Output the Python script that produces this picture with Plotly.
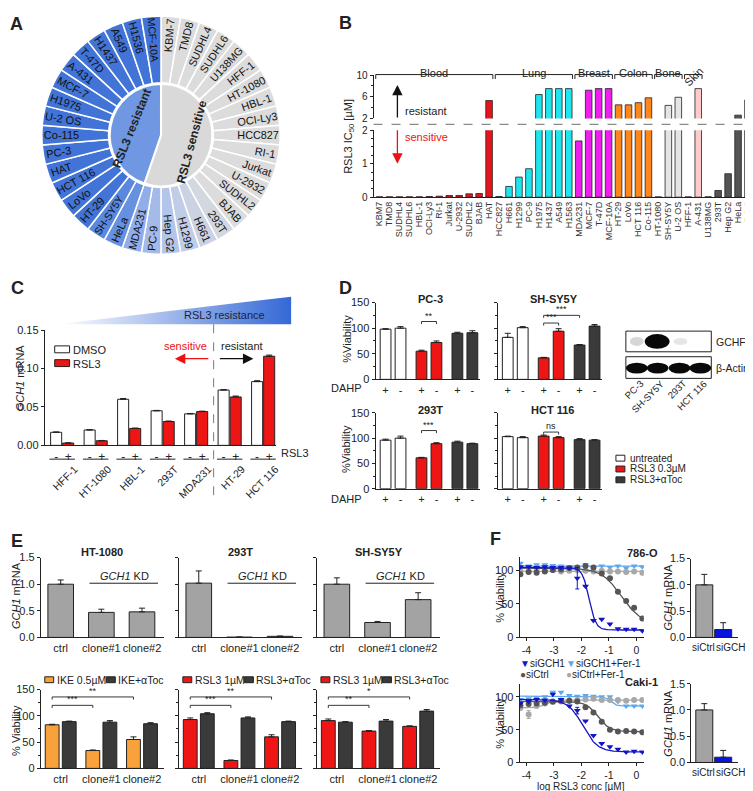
import numpy as np
import plotly.graph_objects as go

W, H = 753, 791
FONT = "Liberation Sans, Arial, sans-serif"
LC = "#222222"
RED = "#ee1515"
DARK = "#3a3a3a"
ORANGE = "#f9a13a"
GRAYBAR = "#a3a3a3"

# ===================== DATA =====================
# --- Panel A ---
a_cells = ["KBM-7", "TMD8", "SUDHL4", "SUDHL6", "U138MG", "HFF-1", "HT-1080", "HBL-1",
           "OCI-Ly3", "HCC827", "RI-1", "Jurkat", "U-2932", "SUDHL2", "BJAB", "293T",
           "H661", "H1299", "Hep G2", "PC-9", "MDA231", "HeLa", "SH-SY5Y", "HT-29",
           "LoVo", "HCT 116", "HAT", "PC-3", "Co-115", "U-2 OS", "H1975", "MCF-7",
           "A-431", "T-47D", "H1437", "A549", "H1536", "MCF-10A"]
a_colors = (["#dcdcdc"] * 15 +
            ["#d3d7df", "#cbd3e3", "#c1cde6", "#b3c5e8", "#a4bbea", "#92aeea",
             "#6690e0", "#5a88de"] +
            ["#4274d8"] * 15)
a_inner_labels = ["RSL3 sensitive", "RSL3 resistant"]
a_inner_counts = [21, 17]
a_inner_colors = ["#d9d9d9", "#6f97e2"]

# --- Panel B ---
b_cells = ["KBM7", "TMD8", "SUDHL4", "SUDHL6", "HBL-1", "OCI-Ly3", "RI-1", "Jurkat",
           "U-2932", "SUDHL2", "BJAB", "HAT", "HCC827", "H661", "H1299", "PC-9",
           "H1975", "H1437", "A549", "H1563", "MDA231", "MCF-7", "T-47D", "MCF-10A",
           "HT-29", "LoVo", "HCT 116", "Co-115", "HT-1080", "SH-SY5Y", "U-2 OS",
           "HFF-1", "A-431", "U138MG", "293T", "Hep G2", "HeLa", "PC-3"]
b_tissue = (["Blood"] * 12 + ["Lung"] * 8 + ["Breast"] * 4 + ["Colon"] * 4 +
            ["Bone"] * 3 + ["Skin"] * 2 + ["Other"] * 5)
b_ic50 = [0.01, 0.01, 0.01, 0.01, 0.01, 0.02, 0.03, 0.05, 0.05, 0.10, 0.11, 5.3,
          0.02, 0.32, 0.60, 0.85, 6.4, 7.5, 7.5, 7.5,
          1.68, 7.2, 7.5, 7.5,
          4.5, 4.5, 4.9, 5.8,
          0.01, 4.4, 5.9,
          0.01, 7.5,
          0.01, 0.20, 0.70, 2.6, 5.4]
b_groups = ["Blood", "Lung", "Breast", "Colon", "Bone", "Skin"]
b_tissue_colors = {"Blood": "#e8141c", "Lung": "#1fe5ef", "Breast": "#ee1eee",
                   "Colon": "#ff861a", "Bone": "#e4e4e4", "Skin": "#ffcaca",
                   "Other": "#545454"}

# --- Panel C ---
c_cells = ["HFF-1", "HT-1080", "HBL-1", "293T", "MDA231", "HT-29", "HCT 116"]
c_dmso = [0.017, 0.020, 0.060, 0.045, 0.041, 0.072, 0.083]
c_dmso_err = [0.0005, 0.0004, 0.0010, 0.0005, 0.0005, 0.0006, 0.0012]
c_rsl3 = [0.003, 0.006, 0.022, 0.031, 0.044, 0.063, 0.116]
c_rsl3_err = [0.0003, 0.0004, 0.0005, 0.0007, 0.0005, 0.0012, 0.0015]

# --- Panel D ---
d_dahp = ["+", "-", "+", "-", "+", "-"]
d_pc3 = [98, 100, 55, 72, 90, 91]
d_pc3_err = [1, 3, 2, 3, 2, 4]
d_shsy5y = [82, 101, 42, 94, 67, 104]
d_shsy5y_err = [8, 2, 1, 5, 1, 3]
d_293t = [96, 100, 61, 89, 92, 89]
d_293t_err = [2, 4, 1, 2, 2, 1]
d_hct116 = [103, 101, 104, 101, 97, 96]
d_hct116_err = [1, 2, 2, 2, 2, 1]
d_blot_lanes = ["PC-3", "SH-SY5Y", "293T", "HCT 116"]

# --- Panel E ---
e_clones = ["ctrl", "clone#1", "clone#2"]
e_mrna_ht1080 = [1.00, 0.47, 0.48]
e_mrna_ht1080_err = [0.08, 0.06, 0.07]
e_mrna_293t = [1.02, 0.005, 0.02]
e_mrna_293t_err = [0.23, 0.002, 0.005]
e_mrna_shsy5y = [1.00, 0.28, 0.71]
e_mrna_shsy5y_err = [0.12, 0.02, 0.13]
e_via_ht1080_ike = [83, 34, 55]
e_via_ht1080_ike_err = [1, 1, 5]
e_via_ht1080_toc = [89, 88, 85]
e_via_ht1080_toc_err = [1, 3, 2]
e_via_293t_rsl3 = [93, 15, 60]
e_via_293t_rsl3_err = [3, 1, 4]
e_via_293t_toc = [104, 96, 89]
e_via_293t_toc_err = [2, 2, 1]
e_via_shsy5y_rsl3 = [91, 71, 80]
e_via_shsy5y_rsl3_err = [3, 1, 1]
e_via_shsy5y_toc = [88, 90, 109]
e_via_shsy5y_toc_err = [1, 3, 3]

# --- Panel F ---
f_logconc = [-4.22, -3.92, -3.63, -3.33, -3.04, -2.74, -2.44, -2.15,
             -1.85, -1.56, -1.26, -0.96, -0.67, -0.37, -0.08, 0.22]
f786_sigch1 = [105, 105, 104, 105, 104, 104, 103, 88, 76, 25, 27, 20, 13, 12, 12, 10]
f786_sigch1_fer = [110, 106, 108, 108, 107, 106, 105, 104, 108, 104, 106, 104, 106, 103, 106, 105]
f786_sictrl = [94, 97, 96, 98, 100, 101, 103, 104, 106, 104, 95, 88, 68, 54, 44, 28]
f786_sictrl_fer = [100, 98, 99, 99, 100, 98, 99, 100, 99, 98, 99, 98, 98, 97, 98, 96]
fcaki_sigch1 = [90, 93, 96, 95, 104, 96, 86, 79, 63, 41, 29, 24, 20, 16, 17, 16]
fcaki_sigch1_fer = [96, 97, 99, 100, 107, 107, 102, 101, 102, 101, 100, 100, 93, 86, 86, 86]
fcaki_sictrl = [87, 89, 90, 91, 93, 94, 94, 93, 84, 76, 62, 50, 47, 48, 47, 46]
fcaki_sictrl_fer = [83, 73, 86, 90, 92, 93, 94, 95, 96, 97, 95, 95, 95, 94, 95, 95]
# fitted 4-parameter logistic curves: (top, bottom, logIC50, hill)
f786_fit = {"siGCH1": (104, 11, -1.72, 3.5), "siGCH1+Fer-1": (106, 106, -1.0, 1.0),
            "siCtrl": (103, 20, -0.55, 1.2), "siCtrl+Fer-1": (98, 98, -1.0, 1.0)}
fcaki_fit = {"siGCH1": (96, 16, -1.95, 1.6), "siGCH1+Fer-1": (101, 86, -0.95, 4.0),
             "siCtrl": (93, 47, -1.40, 2.0), "siCtrl+Fer-1": (83, 95, -3.3, 3.0)}
f_sirna = ["siCtrl", "siGCH1"]
f786_mrna = [1.0, 0.15]
f786_mrna_err = [0.20, 0.13]
fcaki_mrna = [1.0, 0.10]
fcaki_mrna_err = [0.12, 0.13]

# ===================== HELPERS =====================
fig = go.Figure()
axes_layout = {}
shapes = []
annotations = []


def py(v):
    return 1 - v / H


def make_axes(n, xd, yd, xk=None, yk=None):
    s = "" if n == 1 else str(n)
    base = dict(showgrid=False, zeroline=False, showline=True, linecolor=LC, linewidth=1,
                ticks="outside", ticklen=3, tickwidth=1, tickcolor=LC,
                tickfont=dict(size=10, color="#222", family=FONT), fixedrange=True)
    xa = dict(base)
    xa.update(domain=[xd[0] / W, xd[1] / W], anchor="y" + s)
    ya = dict(base)
    ya.update(domain=[1 - yd[1] / H, 1 - yd[0] / H], anchor="x" + s)
    if xk:
        xa.update(xk)
    if yk:
        ya.update(yk)
    axes_layout["xaxis" + s] = xa
    axes_layout["yaxis" + s] = ya
    return "x" + s, "y" + s


def ann(x, y, text, size=10, color="#222", xanchor="center", yanchor="middle", angle=0, bold=False):
    annotations.append(dict(x=x / W, y=py(y), xref="paper", yref="paper",
                            text=f"<b>{text}</b>" if bold else text, showarrow=False,
                            font=dict(size=size, color=color, family=FONT),
                            xanchor=xanchor, yanchor=yanchor, textangle=angle))


def rect(x0, y0, x1, y1, fill, line=LC, lw=1):
    shapes.append(dict(type="rect", xref="paper", yref="paper", x0=x0 / W, x1=x1 / W,
                       y0=py(y1), y1=py(y0), fillcolor=fill, line=dict(color=line, width=lw)))


def pline(x0, y0, x1, y1, color=LC, lw=1, dash=None):
    shapes.append(dict(type="line", xref="paper", yref="paper", x0=x0 / W, x1=x1 / W,
                       y0=py(y0), y1=py(y1), line=dict(color=color, width=lw, dash=dash)))


def ellipse(x0, y0, x1, y1, fill, opacity=1):
    shapes.append(dict(type="circle", xref="paper", yref="paper", x0=x0 / W, x1=x1 / W,
                       y0=py(y1), y1=py(y0), fillcolor=fill, opacity=opacity, line=dict(width=0)))


def bracket(xr, yr, x0, x1, y, drop, label, size=9):
    shapes.append(dict(type="path", xref=xr, yref=yr,
                       path=f"M {x0},{y - drop} L {x0},{y} L {x1},{y} L {x1},{y - drop}",
                       line=dict(color=LC, width=0.9)))
    annotations.append(dict(xref=xr, yref=yr, x=(x0 + x1) / 2, y=y, text=label, showarrow=False,
                            yanchor="bottom", yshift=-1, font=dict(size=size, color="#222", family=FONT)))


def arrow(hx, hy, ax_, ay_, color):
    annotations.append(dict(x=hx / W, y=py(hy), xref="paper", yref="paper", text="",
                            showarrow=True, ax=ax_, ay=ay_, arrowhead=2, arrowsize=1.6,
                            arrowwidth=1.3, arrowcolor=color))


def err(arr, color=LC):
    return dict(type="data", symmetric=False, array=arr, arrayminus=[0] * len(arr),
                color=color, thickness=1, width=3)


# ===================== CANVAS (gradient wedge in C) =====================
axes_layout["xaxis18"] = dict(domain=[0, 1], range=[0, W], visible=False, anchor="y18", fixedrange=True)
axes_layout["yaxis18"] = dict(domain=[0, 1], range=[H, 0], visible=False, anchor="x18", fixedrange=True)
fig.add_trace(go.Scatter(x=[50, 285, 285, 50], y=[315, 287, 315, 315], fill="toself", mode="lines",
                         line=dict(width=0),
                         fillgradient=dict(type="horizontal",
                                           colorscale=[[0, "rgba(60,110,214,0)"], [1, "rgba(52,104,214,1)"]]),
                         xaxis="x18", yaxis="y18", hoverinfo="skip", showlegend=False))

# ===================== PANEL A =====================
fig.add_trace(go.Pie(labels=a_cells, values=[1] * len(a_cells),
                     domain=dict(x=[33 / W, 275 / W], y=[py(244), py(2)]),
                     hole=0.44, sort=False, direction="clockwise", rotation=0,
                     marker=dict(colors=a_colors, line=dict(color="white", width=1.5)),
                     textinfo="label", textposition="inside", insidetextorientation="radial",
                     textfont=dict(size=11, color="#111", family=FONT),
                     hoverinfo="skip", showlegend=False))
fig.add_trace(go.Pie(labels=a_inner_labels, values=a_inner_counts,
                     domain=dict(x=[102 / W, 206 / W], y=[py(175), py(71)]),
                     sort=False, direction="clockwise", rotation=0,
                     marker=dict(colors=a_inner_colors, line=dict(color="white", width=2)),
                     textinfo="none", hoverinfo="skip", showlegend=False))
ann(125, 116, a_inner_labels[1], size=12, angle=-68, bold=True)
ann(185, 130, a_inner_labels[0], size=12, angle=-75, bold=True)

# ===================== PANEL B =====================
bx = list(range(len(b_cells)))
b_cols = [b_tissue_colors[t] for t in b_tissue]
xB1, yB1 = make_axes(1, (368, 753), (62, 106),
                     dict(range=[-0.6, 37.8], showline=False, ticks="", showticklabels=False),
                     dict(range=[2, 10], tickvals=[2, 6, 10],
                          minor=dict(ticks="outside", ticklen=2, dtick=2, tickcolor=LC)))
xB2, yB2 = make_axes(2, (368, 753), (118, 186),
                     dict(range=[-0.6, 37.8], tickvals=bx, ticktext=b_cells, tickangle=-90, ticks="",
                          tickfont=dict(size=9, color="#333", family=FONT)),
                     dict(range=[0, 2], tickvals=[0, 1, 2],
                          minor=dict(ticks="outside", ticklen=2, dtick=0.25, tickcolor=LC)))
for xa, ya in [(xB1, yB1), (xB2, yB2)]:
    fig.add_trace(go.Bar(x=bx, y=b_ic50, xaxis=xa, yaxis=ya, width=0.66,
                         marker=dict(color=b_cols, line=dict(color=LC, width=0.8)),
                         hoverinfo="skip", showlegend=False))
pline(368, 112, 753, 112, color="#8a8a8a", lw=1.3, dash="dash")
for g in b_groups:
    idx = [i for i, t in enumerate(b_tissue) if t == g]
    x0, x1 = idx[0] - 0.38, idx[-1] + 0.38
    shapes.append(dict(type="path", xref="x2", yref="paper",
                       path=f"M {x0},{py(66)} L {x0},{py(61.5)} L {x1},{py(61.5)} L {x1},{py(66)}",
                       line=dict(color=LC, width=1)))
    annotations.append(dict(x=(x0 + x1) / 2, y=py(52) if g != "Skin" else py(49), xref="x2", yref="paper",
                            text=g, showarrow=False, textangle=-45 if g == "Skin" else 0,
                            font=dict(size=11, color="#222", family=FONT)))
ann(343, 124, "RSL3 IC<sub>50</sub> [µM]", size=11, angle=-90)
arrow(392, 72, 0, 34, "#111")
arrow(392, 152, 0, -35, "#ee1111")
ann(398, 99, "resistant", size=11, xanchor="left")
ann(398, 125, "sensitive", size=11, color="#ee1111", xanchor="left")

# ===================== PANEL C =====================
c_pos = list(range(len(c_cells)))
off = 0.18
xC, yC = make_axes(3, (37, 270), (321, 438),
                   dict(range=[-0.52, 6.39], tickvals=[p + s for p in c_pos for s in (-off, off)],
                        ticktext=["-", "+"] * len(c_pos), ticks="",
                        tickfont=dict(size=12, color="#222", family=FONT)),
                   dict(range=[0, 0.15], tickvals=[0, 0.05, 0.10, 0.15],
                        ticktext=["0.00", "0.05", "0.10", "0.15"],
                        tickfont=dict(size=11, color="#222", family=FONT)))
fig.add_trace(go.Bar(x=[p - off for p in c_pos], y=c_dmso, width=0.33, xaxis=xC, yaxis=yC,
                     marker=dict(color="white", line=dict(color=LC, width=1)),
                     error_y=err(c_dmso_err), hoverinfo="skip", showlegend=False))
fig.add_trace(go.Bar(x=[p + off for p in c_pos], y=c_rsl3, width=0.33, xaxis=xC, yaxis=yC,
                     marker=dict(color=RED, line=dict(color=LC, width=1)),
                     error_y=err(c_rsl3_err), hoverinfo="skip", showlegend=False))
axes_layout["xaxis20"] = dict(overlaying="x3", anchor="free", position=py(453), range=[-0.52, 6.39],
                              tickvals=[p + 0.37 for p in c_pos], ticktext=c_cells, tickangle=-45,
                              showline=False, ticks="", showgrid=False, zeroline=False, fixedrange=True,
                              tickfont=dict(size=10.5, color="#222", family=FONT))
fig.add_trace(go.Scatter(x=[0], y=[0], xaxis="x20", yaxis="y3", mode="markers",
                         marker=dict(opacity=0), hoverinfo="skip", showlegend=False))
for p in c_pos:
    shapes.append(dict(type="line", xref="x3", yref="paper", x0=p - 0.38, x1=p + 0.38,
                       y0=py(452), y1=py(452), line=dict(color=LC, width=1)))
ann(273, 446, "RSL3", size=11, xanchor="left")
ann(12, 369, "<i>GCH1</i> mRNA", size=11, angle=-90)
rect(47, 337, 62, 344, "white")
ann(63, 341, "DMSO", size=11, xanchor="left")
rect(47, 351, 62, 358, RED)
ann(63, 355, "RSL3", size=11, xanchor="left")
pline(207, 315, 207, 493, color="#7a7a7a", lw=1, dash="dash")
ann(202, 337, "sensitive", size=11, color="#ee1111", xanchor="right")
ann(212, 337, "resistant", size=11, xanchor="left")
arrow(168, 350, 35, 0, "#ee1111")
arrow(247, 350, -35, 0, "#111")
ann(218, 306, "RSL3 resistance", size=11, color="#1a2440")

# ===================== PANEL D =====================
d_x = [0, 1, 2.4, 3.4, 4.8, 5.8]
d_cols = ["white", "white", RED, RED, DARK, DARK]
d_specs = [(4, d_pc3, d_pc3_err, (370, 475), (293, 371), True, "PC-3", (425, 289)),
           (5, d_shsy5y, d_shsy5y_err, (493, 598), (293, 371), False, "SH-SY5Y", (550, 289)),
           (6, d_293t, d_293t_err, (370, 475), (405, 482), True, "293T", (425, 402)),
           (7, d_hct116, d_hct116_err, (493, 598), (405, 482), False, "HCT 116", (548, 402))]
d_ax = {}
for n, vals, errs, xd, yd, lab, title, tpos in d_specs:
    xa, ya = make_axes(n, xd, yd,
                       dict(range=[-0.67, 6.3], tickvals=d_x, ticktext=d_dahp, ticks="",
                            tickfont=dict(size=11, color="#222", family=FONT)),
                       dict(range=[0, 150], tickvals=[0, 50, 100, 150], showticklabels=lab,
                            minor=dict(ticks="outside", ticklen=2, dtick=25, tickcolor=LC),
                            tickfont=dict(size=11, color="#222", family=FONT)))
    d_ax[title] = (xa, ya)
    fig.add_trace(go.Bar(x=d_x, y=vals, width=0.72, xaxis=xa, yaxis=ya,
                         marker=dict(color=d_cols, line=dict(color=LC, width=1)),
                         error_y=err(errs), hoverinfo="skip", showlegend=False))
    ann(tpos[0], tpos[1], title, size=11, bold=True)
bracket(*d_ax["PC-3"], 2.4, 3.4, 113, 5, "**")
bracket(*d_ax["SH-SY5Y"], 2.4, 3.4, 110, 5, "***")
bracket(*d_ax["SH-SY5Y"], 2.4, 4.8, 125, 5, "***")
bracket(*d_ax["293T"], 2.4, 3.4, 115, 5, "***")
bracket(*d_ax["HCT 116"], 2.4, 3.4, 112, 5, "ns")
ann(358, 380, "DAHP", size=11, xanchor="right")
ann(358, 492, "DAHP", size=11, xanchor="right")
ann(341, 330, "%Viability", size=11, angle=-90)
ann(341, 442, "%Viability", size=11, angle=-90)
# western blot
rect(622, 322, 708, 343, "white", lw=1)
rect(622, 348, 708, 370, "white", lw=1)
lane_c = [633, 654, 676, 697]
ellipse(626, 328, 640, 337, "#bdbdbd", 0.6)
ellipse(641, 325, 666, 340, "#080808")
ellipse(670, 329, 684, 336, "#d6d6d6", 0.6)
for c in lane_c:
    ellipse(c - 11, 354, c + 11, 365, "#0a0a0a")
ann(711, 333, "GCHFR", size=10.5, xanchor="left")
ann(711, 359, "β-Actin", size=10.5, xanchor="left")
for lbl, cx, cy in zip(d_blot_lanes, [630, 644, 673, 688], [381, 388, 381, 387]):
    ann(cx, cy, lbl, size=9.5, angle=-45)
rect(612, 448, 621, 454, "white")
ann(624, 451, "untreated", size=10, xanchor="left")
rect(612, 459, 621, 465, RED)
ann(624, 462, "RSL3 0.3µM", size=10, xanchor="left")
rect(612, 470, 621, 476, DARK)
ann(624, 473, "RSL3+αToc", size=10, xanchor="left")

# ===================== PANEL E =====================
e_x = [0, 1, 2]
e_a = [33, 172, 311]
e_titles = ["HT-1080", "293T", "SH-SY5Y"]
e_mrna = [(e_mrna_ht1080, e_mrna_ht1080_err), (e_mrna_293t, e_mrna_293t_err),
          (e_mrna_shsy5y, e_mrna_shsy5y_err)]
e_via = [(e_via_ht1080_ike, e_via_ht1080_ike_err, e_via_ht1080_toc, e_via_ht1080_toc_err, ORANGE,
          "IKE 0.5µM", "IKE+αToc", ("***", "**")),
         (e_via_293t_rsl3, e_via_293t_rsl3_err, e_via_293t_toc, e_via_293t_toc_err, RED,
          "RSL3 1µM", "RSL3+αToc", ("***", "**")),
         (e_via_shsy5y_rsl3, e_via_shsy5y_rsl3_err, e_via_shsy5y_toc, e_via_shsy5y_toc_err, RED,
          "RSL3 1µM", "RSL3+αToc", ("**", "*"))]
xr = [-0.49, 2.54]
for k in range(3):
    a = e_a[k]
    xa, ya = make_axes(8 + k, (a, a + 124), (552, 633),
                       dict(range=xr, tickvals=e_x, ticktext=e_clones, ticks="",
                            tickfont=dict(size=11, color="#222", family=FONT)),
                       dict(range=[0, 1.5], tickvals=[0, 0.5, 1, 1.5],
                            ticktext=["0.0", "0.5", "1.0", "1.5"], showticklabels=(k == 0),
                            tickfont=dict(size=11, color="#222", family=FONT)))
    vals, errs = e_mrna[k]
    fig.add_trace(go.Bar(x=e_x, y=vals, width=0.63, xaxis=xa, yaxis=ya,
                         marker=dict(color=GRAYBAR, line=dict(color=LC, width=1)),
                         error_y=err(errs), hoverinfo="skip", showlegend=False))
    ann(a + 62, 546, e_titles[k], size=11, bold=True)
    pline(a + 49, 578, a + 118, 578)
    ann(a + 84, 571, "<i>GCH1</i> KD", size=11)

    t, te, c, ce, col, l1, l2, sig = e_via[k]
    xa, ya = make_axes(11 + k, (a, a + 124), (686, 766),
                       dict(range=xr, tickvals=e_x, ticktext=e_clones, ticks="",
                            tickfont=dict(size=11, color="#222", family=FONT)),
                       dict(range=[0, 150], tickvals=[0, 50, 100, 150], showticklabels=(k == 0),
                            minor=dict(ticks="outside", ticklen=2, dtick=25, tickcolor=LC),
                            tickfont=dict(size=11, color="#222", family=FONT)))
    fig.add_trace(go.Bar(x=[v - 0.21 for v in e_x], y=t, width=0.34, xaxis=xa, yaxis=ya,
                         marker=dict(color=col, line=dict(color=LC, width=1)),
                         error_y=err(te), hoverinfo="skip", showlegend=False))
    fig.add_trace(go.Bar(x=[v + 0.21 for v in e_x], y=c, width=0.34, xaxis=xa, yaxis=ya,
                         marker=dict(color=DARK, line=dict(color=LC, width=1)),
                         error_y=err(ce), hoverinfo="skip", showlegend=False))
    bracket(xa, ya, -0.21, 0.79, 120, 5, sig[0])
    bracket(xa, ya, -0.21, 1.79, 136, 5, sig[1])
    rect(a + 4, 673, a + 13, 679, col)
    ann(a + 14, 676, l1, size=10.5, xanchor="left")
    rect(a + 66, 673, a + 75, 679, DARK)
    ann(a + 76, 676, l2, size=10.5, xanchor="left")
ann(8, 590, "<i>GCH1</i> mRNA", size=11, angle=-90)
ann(8, 727, "% Viability", size=11, angle=-90)

# ===================== PANEL F =====================
fit_x = np.linspace(-4.25, 0.27, 200)


def four_pl(x, top, bottom, logic50, hill):
    return bottom + (top - bottom) / (1 + 10 ** ((x - logic50) * hill))


f_style = {"siGCH1": ("#1414c8", "triangle-down"), "siGCH1+Fer-1": ("#5ea8ec", "triangle-down"),
           "siCtrl": ("#555555", "circle"), "siCtrl+Fer-1": ("#a8a8a8", "circle")}
f_panels = [(14, (551, 633), {"siGCH1+Fer-1": f786_sigch1_fer, "siCtrl+Fer-1": f786_sictrl_fer,
                              "siCtrl": f786_sictrl, "siGCH1": f786_sigch1}, f786_fit,
             {"siGCH1": {7: 16}}, "786-O", 547),
            (15, (680, 760), {"siGCH1+Fer-1": fcaki_sigch1_fer, "siCtrl+Fer-1": fcaki_sictrl_fer,
                              "siCtrl": fcaki_sictrl, "siGCH1": fcaki_sigch1}, fcaki_fit,
             {"siGCH1": {7: 5}, "siCtrl+Fer-1": {1: 6}, "siCtrl": {0: 3}}, "Caki-1", 678)]
for n, yd, series, fits, errmap, title, ty in f_panels:
    xa, ya = make_axes(n, (515, 640), yd,
                       dict(range=[-4.25, 0.27], tickvals=[-4, -3, -2, -1, 0],
                            ticktext=["-4", "-3", "-2", "-1", "0"],
                            tickfont=dict(size=10.5, color="#222", family=FONT)),
                       dict(range=[0, 120], tickvals=[0, 50, 100],
                            tickfont=dict(size=11, color="#222", family=FONT)))
    for name, vals in series.items():
        colr, sym = f_style[name]
        fig.add_trace(go.Scatter(x=fit_x, y=four_pl(fit_x, *fits[name]), mode="lines",
                                 line=dict(color=colr, width=1.3), xaxis=xa, yaxis=ya,
                                 hoverinfo="skip", showlegend=False))
        e = [errmap.get(name, {}).get(i, 0) for i in range(len(vals))]
        fig.add_trace(go.Scatter(x=f_logconc, y=vals, mode="markers",
                                 marker=dict(color=colr, symbol=sym, size=6),
                                 error_y=dict(type="data", array=e, color=colr, thickness=1, width=2),
                                 xaxis=xa, yaxis=ya, hoverinfo="skip", showlegend=False))
    ann(656, ty, title, size=11, bold=True, xanchor="right")
ann(495, 592, "% Viability", size=11, angle=-90)
ann(495, 720, "% Viability", size=11, angle=-90)
ann(577, 784, "log RSL3 conc [µM]", size=10)
ann(513, 659, "<span style='color:#1414c8'>▼</span>siGCH1", size=10, xanchor="left")
ann(560, 659, "<span style='color:#5ea8ec'>▼</span>siGCH1+Fer-1", size=10, xanchor="left")
ann(513, 671, "<span style='color:#555555'>●</span>siCtrl", size=10, xanchor="left")
ann(560, 671, "<span style='color:#a8a8a8'>●</span>siCtrl+Fer-1", size=10, xanchor="left")

f_bx = [0, 1]
for n, yd, vals, errs, ty, ly in [(16, (553, 633), f786_mrna, f786_mrna_err, 592, 643),
                                  (17, (680, 760), fcaki_mrna, fcaki_mrna_err, 720, 770)]:
    xa, ya = make_axes(n, (688, 735), yd,
                       dict(range=[-0.68, 1.79], tickvals=f_bx, showticklabels=False, ticks=""),
                       dict(range=[0, 1.5], tickvals=[0, 0.5, 1, 1.5],
                            ticktext=["0.0", "0.5", "1.0", "1.5"],
                            tickfont=dict(size=11, color="#222", family=FONT)))
    fig.add_trace(go.Bar(x=f_bx, y=vals, width=0.9, xaxis=xa, yaxis=ya,
                         marker=dict(color=[GRAYBAR, "#0a14e0"], line=dict(color=LC, width=1)),
                         error_y=err(errs), hoverinfo="skip", showlegend=False))
    ann(664, ty, "<i>GCH1</i> mRNA", size=11, angle=-90)
    ann(700, ly, f_sirna[0], size=10)
    ann(730, ly, f_sirna[1], size=10)

# ===================== PANEL LETTERS =====================
for letter, x, y in [("A", 9, 10), ("B", 340, 9), ("C", 10, 278), ("D", 340, 278),
                     ("E", 9, 535), ("F", 491, 533)]:
    ann(x, y, letter, size=18, bold=True)

fig.update_layout(width=W, height=H, margin=dict(l=0, r=0, t=0, b=0),
                  paper_bgcolor="white", plot_bgcolor="rgba(0,0,0,0)",
                  barmode="overlay", showlegend=False,
                  font=dict(family=FONT, size=10, color="#222"),
                  shapes=shapes, annotations=annotations, **axes_layout)
fig.write_html("out.html")
